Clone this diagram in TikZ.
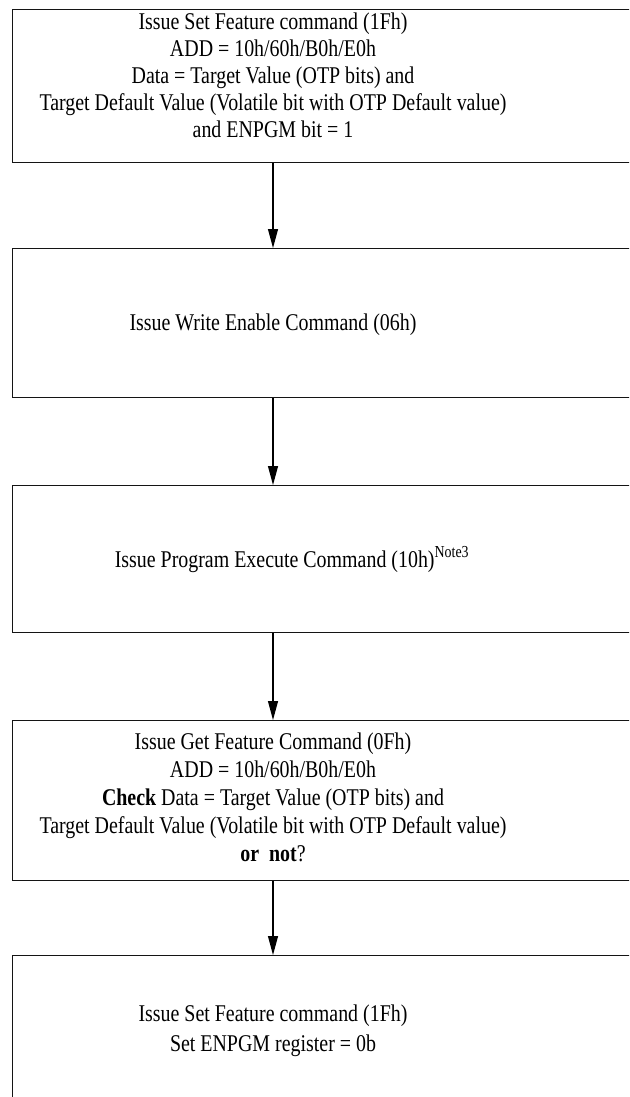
\documentclass[tikz,border=0pt]{standalone}
\usepackage{fontspec}
\setmainfont{Liberation Serif}[FakeStretch=0.83]
\usepackage{xcolor}
\usetikzlibrary{arrows.meta, positioning}
\definecolor{boxline}{RGB}{20,20,20}

\begin{document}
\begin{tikzpicture}[
    x=1pt, y=-1pt,
    stepbox/.style={draw=boxline, line width=1.2pt, minimum width=700pt, anchor=north west, inner sep=0pt},
    steptext/.style={align=center, inner sep=0pt, font=\fontsize{24}{27}\selectfont},
    flowarrow/.style={draw=black, line width=1.1pt, -{Triangle[length=19pt, width=10pt]}}
]
    \useasboundingbox (0,0) rectangle (629,1097);
    \clip (0,0) rectangle (629,1097);

    % boxes (right side runs off the page)
    \node[stepbox, minimum height=153pt] (box1) at (12,9) {};
    \node[stepbox, minimum height=149pt] (box2) at (12,248) {};
    \node[stepbox, minimum height=147pt] (box3) at (12,485) {};
    \node[stepbox, minimum height=160pt] (box4) at (12,720) {};
    \node[stepbox, minimum height=200pt] (box5) at (12,955) {};

    \coordinate (axis) at (273,0);

    % texts
    \node[steptext, anchor=north] (txt1) at (273,12.5) {
        Issue Set Feature command (1Fh)\\
        ADD = 10h/60h/B0h/E0h\\
        Data = Target Value (OTP bits) and\\
        Target Default Value (Volatile bit with OTP Default value)\\
        and ENPGM bit = 1
    };
    \node[steptext, anchor=base] (txt2) at (273,330) {Issue Write Enable Command (06h)};
    \node[steptext, anchor=base] (txt3) at (292,567) {Issue Program Execute Command (10h)\textsuperscript{Note3}};
    \node[steptext, anchor=north, font=\fontsize{24}{28}\selectfont] (txt4) at (273,733) {
        Issue Get Feature Command (0Fh)\\
        ADD = 10h/60h/B0h/E0h\\
        \textbf{Check} Data = Target Value (OTP bits) and\\
        Target Default Value (Volatile bit with OTP Default value)\\
        \textbf{or\ \ not}?
    };
    \node[steptext, anchor=north, font=\fontsize{24}{30}\selectfont] (txt5) at (273,1005) {
        Issue Set Feature command (1Fh)\\
        Set ENPGM register = 0b
    };

    % arrows
    \draw[flowarrow] (box1.south -| axis) -- (box2.north -| axis);
    \draw[flowarrow] (box2.south -| axis) -- (box3.north -| axis);
    \draw[flowarrow] (box3.south -| axis) -- (box4.north -| axis);
    \draw[flowarrow] (box4.south -| axis) -- (box5.north -| axis);
\end{tikzpicture}
\end{document}
